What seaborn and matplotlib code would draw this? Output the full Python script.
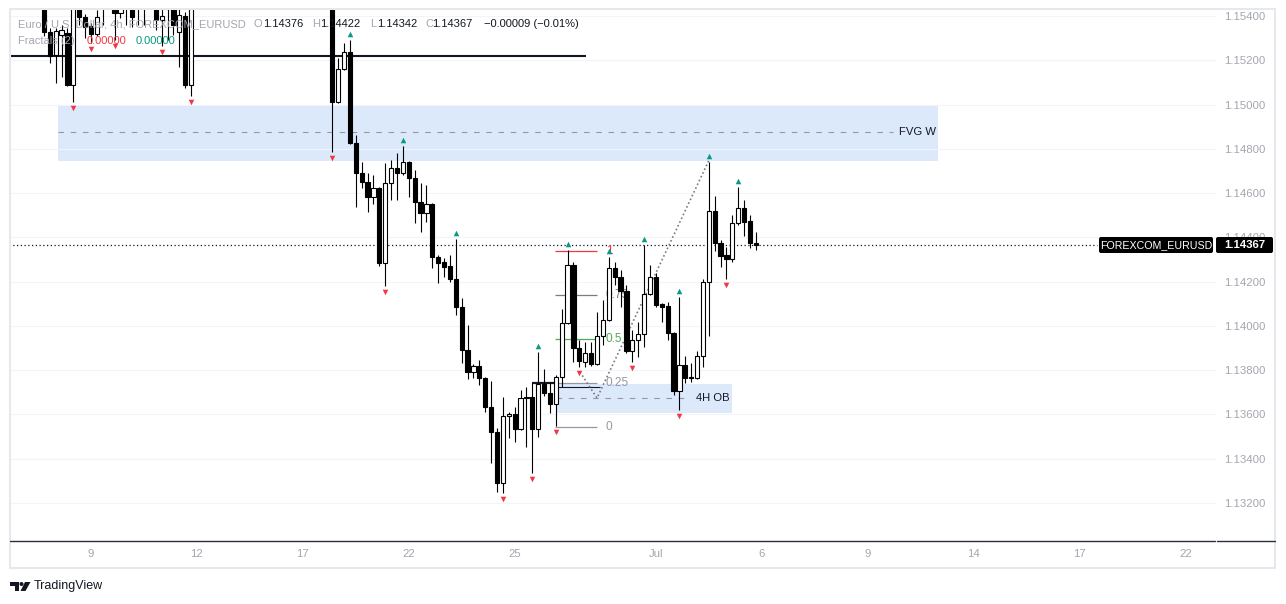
import numpy as np
import pandas as pd
import matplotlib
matplotlib.use("Agg")
import matplotlib.pyplot as plt
import matplotlib.transforms as mtransforms
from matplotlib import font_manager as fm
from matplotlib.patches import Rectangle, FancyBboxPatch, Polygon, Circle
import seaborn as sns

# ---- data (EURUSD 4h, bar 0 = first bar of 9 June) ----
bar_idx = list(range(-8, 18)) + list(range(41, 114))
opens = [1.15480, 1.15328, 1.15224, 1.15314, 1.15323, 1.15088, 1.15450, 1.15396, 1.15355, 1.15319,
         1.15440, 1.15480, 1.15450, 1.15414, 1.15450, 1.15450, 1.15460, 1.15440, 1.15470, 1.15450,
         1.15382, 1.15450, 1.15440, 1.15328, 1.15400, 1.15088,
         1.15480, 1.15012, 1.15161, 1.15237, 1.14826, 1.14691, 1.14650, 1.14582, 1.14623, 1.14284,
         1.14646, 1.14713, 1.14691, 1.14741, 1.14668, 1.14560, 1.14510, 1.14551, 1.14311, 1.14289,
         1.14271, 1.14212, 1.14085, 1.13891, 1.13792, 1.13819, 1.13765, 1.13634, 1.13521, 1.13290,
         1.13593, 1.13602, 1.13534, 1.13676, 1.13679, 1.13534, 1.13738, 1.13697, 1.13647, 1.13769,
         1.14014, 1.14275, 1.13900, 1.13837, 1.13878, 1.13828, 1.13955, 1.14027, 1.14262, 1.14221,
         1.14158, 1.13887, 1.13936, 1.13964, 1.14144, 1.14221, 1.14099, 1.14090, 1.13968, 1.13706,
         1.13823, 1.13767, 1.13765, 1.13864, 1.14198, 1.14519, 1.14375, 1.14320, 1.14302, 1.14465,
         1.14533, 1.14474, 1.14376]
highs = [1.15520, 1.15346, 1.15346, 1.15359, 1.15346, 1.15470, 1.15480, 1.15410, 1.15370, 1.15427,
         1.15500, 1.15510, 1.15470, 1.15460, 1.15490, 1.15470, 1.15480, 1.15490, 1.15500, 1.15470,
         1.15430, 1.15470, 1.15470, 1.15430, 1.15420, 1.15500,
         1.15500, 1.15210, 1.15278, 1.15292, 1.14862, 1.14741, 1.14691, 1.14682, 1.14628, 1.14736,
         1.14750, 1.14781, 1.14813, 1.14745, 1.14705, 1.14646, 1.14637, 1.14555, 1.14320, 1.14307,
         1.14320, 1.14393, 1.14126, 1.14005, 1.13828, 1.13846, 1.13769, 1.13751, 1.13539, 1.13679,
         1.13611, 1.13634, 1.13711, 1.13724, 1.13742, 1.13882, 1.13806, 1.13747, 1.13778, 1.14076,
         1.14343, 1.14289, 1.13936, 1.13927, 1.13927, 1.14063, 1.14117, 1.14311, 1.14289, 1.14253,
         1.14185, 1.13982, 1.14018, 1.14365, 1.14275, 1.14239, 1.14104, 1.14108, 1.13972, 1.14131,
         1.13864, 1.13833, 1.13887, 1.14212, 1.14741, 1.14587, 1.14388, 1.14356, 1.14501, 1.14628,
         1.14569, 1.14501, 1.14422]
lows = [1.15310, 1.15188, 1.15097, 1.15125, 1.15084, 1.15012, 1.15359, 1.15301, 1.15278, 1.15310,
        1.15359, 1.15440, 1.15292, 1.15391, 1.15359, 1.15350, 1.15359, 1.15359, 1.15450, 1.15337,
        1.15265, 1.15292, 1.15314, 1.15170, 1.15075, 1.15039,
        1.14786, 1.15007, 1.15157, 1.14822, 1.14537, 1.14623, 1.14515, 1.14551, 1.14271, 1.14180,
        1.14569, 1.14569, 1.14682, 1.14582, 1.14465, 1.14424, 1.14469, 1.14262, 1.14194, 1.14221,
        1.14198, 1.14049, 1.13833, 1.13760, 1.13765, 1.13733, 1.13611, 1.13381, 1.13250, 1.13245,
        1.13494, 1.13476, 1.13530, 1.13453, 1.13336, 1.13498, 1.13683, 1.13607, 1.13548, 1.13724,
        1.14010, 1.13837, 1.13815, 1.13815, 1.13819, 1.13825, 1.13914, 1.14020, 1.14185, 1.14085,
        1.13878, 1.13837, 1.13860, 1.13905, 1.14140, 1.14085, 1.14018, 1.13936, 1.13688, 1.13620,
        1.13742, 1.13747, 1.13760, 1.13815, 1.13955, 1.14338, 1.14266, 1.14212, 1.14289, 1.14456,
        1.14406, 1.14352, 1.14342]
closes = [1.15328, 1.15219, 1.15332, 1.15337, 1.15088, 1.15440, 1.15396, 1.15350, 1.15319, 1.15396,
          1.15470, 1.15460, 1.15414, 1.15440, 1.15470, 1.15396, 1.15440, 1.15470, 1.15480, 1.15382,
          1.15400, 1.15430, 1.15359, 1.15405, 1.15088, 1.15460,
          1.15012, 1.15161, 1.15237, 1.14826, 1.14691, 1.14650, 1.14582, 1.14623, 1.14284, 1.14646,
          1.14713, 1.14691, 1.14741, 1.14668, 1.14560, 1.14510, 1.14551, 1.14311, 1.14284, 1.14266,
          1.14212, 1.14085, 1.13891, 1.13792, 1.13819, 1.13765, 1.13634, 1.13521, 1.13290, 1.13593,
          1.13602, 1.13534, 1.13674, 1.13681, 1.13534, 1.13738, 1.13697, 1.13647, 1.13769, 1.14014,
          1.14275, 1.13900, 1.13842, 1.13878, 1.13828, 1.13955, 1.14027, 1.14262, 1.14221, 1.14158,
          1.13887, 1.13936, 1.13964, 1.14144, 1.14221, 1.14095, 1.14085, 1.13968, 1.13706, 1.13823,
          1.13765, 1.13763, 1.13864, 1.14198, 1.14519, 1.14375, 1.14316, 1.14302, 1.14465, 1.14533,
          1.14469, 1.14375, 1.14367]

fractal_up = [44, 53, 62, 76, 81, 88, 94, 100, 105, 110]
fractal_down = [-3, 0, 4, 12, 17, 41, 50, 70, 75, 79, 83, 92, 100, 108]

price_ticks = [1.132, 1.134, 1.136, 1.138, 1.140, 1.142, 1.144, 1.146, 1.148, 1.150, 1.152, 1.154]
time_tick_idx = [0, 18, 36, 54, 72, 96, 114, 132, 150, 168, 186]
time_tick_labels = ["9", "12", "17", "22", "25", "Jul", "6", "9", "14", "17", "22"]

resistance = 1.15219
fvg_low, fvg_high, fvg_mid = 1.14745, 1.14993, 1.14876
ob_low, ob_high, ob_mid = 1.13607, 1.13738, 1.13674
fib_low, fib_high = 1.13543, 1.14338
fib_levels = [0, 0.25, 0.5, 0.75, 1]
fib_labels = ["0", "0.25", "0.5", "0.75", "1"]
path_idx = [83.1, 86.0, 105.05]
path_price = [1.13792, 1.13674, 1.14750]

df = pd.DataFrame({"o": opens, "h": highs, "l": lows, "c": closes}, index=bar_idx)
last_close = closes[-1]

# ---- style ----
sns.set_style("white")
plt.rcParams["font.family"] = ["Liberation Sans", "DejaVu Sans"]
installed = {f.name for f in fm.fontManager.ttflist}
has_narrow = "Liberation Sans Narrow" in installed
narrow = ["Liberation Sans Narrow", "Liberation Sans"] if has_narrow else ["Liberation Sans", "DejaVu Sans"]

W, H = 1286, 604
fig = plt.figure(figsize=(W / 100, H / 100), dpi=100)
PX = mtransforms.Affine2D().scale(1 / W, -1 / H).translate(0, 1) + fig.transFigure

ax = fig.add_axes([10 / W, (H - 541) / H, 1206 / W, 533 / H])
for s in ax.spines.values():
    s.set_visible(False)

ax.grid(axis="y", color="#f3f4f7", lw=0.8, zorder=0)
ax.set_axisbelow(True)

# zones
ax.add_patch(Rectangle((-5.6, fvg_low), 149.6, fvg_high - fvg_low, fc="#dce9fb", ec="none", zorder=0.5))
ax.hlines(fvg_mid, -5.6, 136.3, colors="#9598a1", lw=0.8, linestyles=(0, (5, 6)), zorder=0.6)
ax.text(137.4, fvg_mid, "FVG W", va="center", ha="left", fontsize=8.1, color="#131722", zorder=1)

ax.add_patch(Rectangle((79.0, ob_low), 29.95, ob_high - ob_low, fc="#dce9fb", ec="none", zorder=0.5))
ax.hlines(ob_mid, 79.0, 101.6, colors="#9598a1", lw=0.8, linestyles=(0, (5, 6)), zorder=0.6)
ax.text(102.8, ob_mid, "4H OB", va="center", ha="left", fontsize=8.1, color="#131722", zorder=1)

# levels
ax.hlines(resistance, -14, 84.1, colors="#131722", lw=1.5, zorder=1)
ax.hlines(last_close, -14, 171.0, colors="#131722", lw=0.9, linestyles=(0, (1, 2)), zorder=1)

# fib retracement
fib_colors = ["#9598a1", "#9598a1", "#4caf50", "#787b86", "#f23645"]
for lv, lab, col in zip(fib_levels, fib_labels, fib_colors):
    p = fib_low + lv * (fib_high - fib_low)
    ax.hlines(p, 78.9, 86.0, colors=col, lw=0.9, zorder=1)
    ax.text(87.5, p, lab, va="center", ha="left", fontsize=8.6, color=col, zorder=1)
ax.hlines(1.13740, 74.9, 79.0, colors="#131722", lw=1.6, zorder=1.2)
ax.hlines(1.13725, 79.0, 86.5, colors="#131722", lw=0.8, zorder=1.2)
ax.plot(path_idx, path_price, color="#787b86", lw=1.2, linestyle=(0, (1, 1.5)), zorder=1.3)

# candles
x = np.array(df.index, dtype=float)
body_lo = np.minimum(df.o, df.c).values
body_h = np.maximum(np.abs(df.c - df.o).values, 0.00002)
bull = (df.c >= df.o).values
ax.vlines(x, df.l, df.h, colors="black", lw=0.8, zorder=2)
ax.bar(x, body_h, bottom=body_lo, width=0.72,
       color=np.where(bull, "white", "black"), edgecolor="black", linewidth=0.8, zorder=3)

# fractals
up_tr = mtransforms.offset_copy(ax.transData, fig=fig, y=4.2, units="points")
dn_tr = mtransforms.offset_copy(ax.transData, fig=fig, y=-4.2, units="points")
sns.scatterplot(x=fractal_up, y=df.loc[fractal_up, "h"].values, marker="^", s=16,
                color="#089981", linewidth=0, transform=up_tr, ax=ax, zorder=4, legend=False)
sns.scatterplot(x=fractal_down, y=df.loc[fractal_down, "l"].values, marker="v", s=16,
                color="#f23645", linewidth=0, transform=dn_tr, ax=ax, zorder=4, legend=False)
ax.set_xlim(-13.77, 191.2)
ax.set_ylim(1.130283, 1.154361)

# axes ticks
ax.yaxis.tick_right()
ax.set_yticks(price_ticks)
ax.set_yticklabels([f"{v:.5f}" for v in price_ticks])
ax.set_xticks(time_tick_idx)
ax.set_xticklabels(time_tick_labels)
ax.tick_params(axis="y", length=0, pad=6, labelsize=8.2, labelcolor="#a3a6af")
ax.tick_params(axis="x", length=0, pad=6.0, labelcolor="#a3a6af")
for lab in ax.get_xticklabels():
    lab.set_fontfamily(narrow)
    lab.set_fontsize(9.2 if has_narrow else 8.2)
ax.set_xlabel("")
ax.set_ylabel("")

# frame
fig.add_artist(Rectangle((10, 9), 1265, 559, transform=PX, fill=False, ec="#e6e8ee", lw=1.5))
fig.add_artist(plt.Line2D([10, 1215], [541, 541], transform=PX, color="#2a2e39", lw=1.0))
fig.add_artist(plt.Line2D([1217, 1275], [541, 541], transform=PX, color="#2a2e39", lw=1.0))

# legend header
gray, dark = "#a3a6af", "#131722"
header = [("Euro / U.S. Dollar, 4h, FOREXCOM_EURUSD", 18, gray),
          ("O", 254, gray), ("1.14376", 263, dark),
          ("H", 312, gray), ("1.14422", 320, dark),
          ("L", 370, gray), ("1.14342", 377, dark),
          ("C", 425, gray), ("1.14367", 432, dark),
          ("\u22120.00009 (\u22120.01%)", 484, dark)]
for s, xp, col in header:
    fig.text(xp, 24, s, transform=PX, va="center", ha="left", fontsize=8.0, color=col)
for s, xp, col in [("Fractals (2)", 18, gray), ("0.00000", 87, "#f23645"), ("0.00000", 136, "#089981")]:
    fig.text(xp, 41, s, transform=PX, va="center", ha="left", fontsize=8.0, color=col)

# last price labels
fig.add_artist(FancyBboxPatch((1099, 237), 114, 16, boxstyle="round,pad=0,rounding_size=2",
                              transform=PX, fc="black", ec="none"))
fig.text(1156, 245.5, "FOREXCOM_EURUSD", transform=PX, va="center", ha="center",
         fontsize=9.0 if has_narrow else 7.7, color="white", family=narrow)
fig.add_artist(FancyBboxPatch((1216, 237), 57, 16, boxstyle="round,pad=0,rounding_size=2",
                              transform=PX, fc="black", ec="none"))
fig.text(1244.5, 245.5, f"{last_close:.5f}", transform=PX, va="center", ha="center",
         fontsize=9.6 if has_narrow else 8.2, color="white", fontweight="bold", family=narrow)

# TradingView logo
fig.add_artist(Polygon([(10, 582), (18.5, 582), (18.5, 591), (14.5, 591), (14.5, 586), (10, 586)],
                       closed=True, transform=PX, fc="#131722", ec="none"))
fig.add_artist(Circle((21.5, 584), 2, transform=PX, fc="#131722", ec="none"))
fig.add_artist(Polygon([(25, 582), (30.5, 582), (25.5, 591), (20.5, 591)],
                       closed=True, transform=PX, fc="#131722", ec="none"))
fig.text(34, 586, "TradingView", transform=PX, va="center", ha="left", fontsize=9, color="#131722")

fig.savefig("out.png", dpi=100)
